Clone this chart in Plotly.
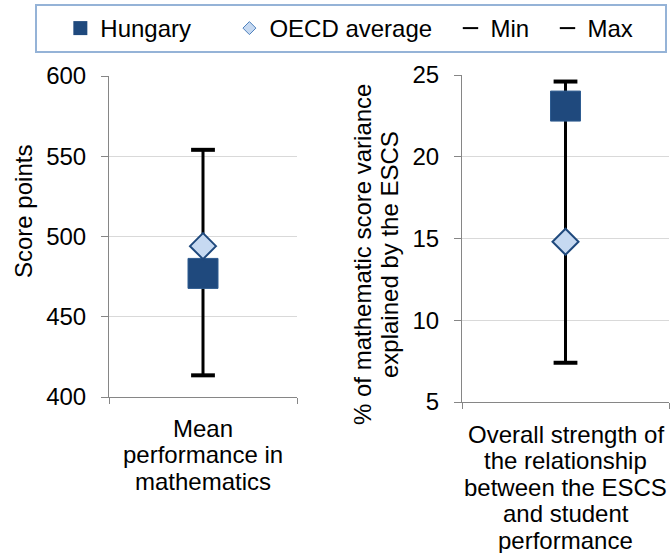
import plotly.graph_objects as go

W, H = 670, 553

# ---- data -------------------------------------------------------------
panel_labels = [
    ["Mean", "performance in", "mathematics"],
    ["Overall strength of", "the relationship", "between the ESCS",
     "and student", "performance"],
]
axis_titles = [
    ["Score points"],
    ["% of mathematic score variance", "explained by the ESCS"],
]
hungary = [477, 23.1]
oecd_average = [494, 14.8]
minimum = [413.5, 7.4]
maximum = [554, 24.6]
y_ranges = [[400, 600], [5, 25]]
y_steps = [50, 5]

# ---- styling ----------------------------------------------------------
FONT = "Liberation Sans"
TXT = "#000000"
NAVY = "#1F497D"
LIGHT = "#C6D9F1"
AXIS = "#868686"
GRID = "#D9D9D9"


def px_x(p):
    return p / W


def px_y(p):
    return 1 - p / H


# plot-area boxes in pixels: (left, right, top, bottom)
boxes = [(109, 297, 76, 397), (462, 669, 75, 402)]

fig = go.Figure()

for i in range(2):
    xa = "x" if i == 0 else "x2"
    ya = "y" if i == 0 else "y2"
    # min-max range line
    fig.add_trace(go.Scatter(
        x=[0, 0], y=[minimum[i], maximum[i]], xaxis=xa, yaxis=ya,
        mode="lines", line=dict(color="black", width=3),
        showlegend=False, hoverinfo="skip"))
    # caps at min and max
    fig.add_trace(go.Scatter(
        x=[0], y=[minimum[i]], xaxis=xa, yaxis=ya, mode="markers",
        marker=dict(symbol="line-ew", size=17,
                    line=dict(color="black", width=4)),
        name="Min", showlegend=False))
    fig.add_trace(go.Scatter(
        x=[0], y=[maximum[i]], xaxis=xa, yaxis=ya, mode="markers",
        marker=dict(symbol="line-ew", size=17,
                    line=dict(color="black", width=4)),
        name="Max", showlegend=False))
    # Hungary
    fig.add_trace(go.Scatter(
        x=[0], y=[hungary[i]], xaxis=xa, yaxis=ya, mode="markers",
        marker=dict(symbol="square", size=30, color=NAVY,
                    line=dict(color="#2E5C91", width=1)),
        name="Hungary", showlegend=False))
    # OECD average
    fig.add_trace(go.Scatter(
        x=[0], y=[oecd_average[i]], xaxis=xa, yaxis=ya, mode="markers",
        marker=dict(symbol="diamond", size=20, color=LIGHT,
                    line=dict(color=NAVY, width=2)),
        name="OECD average", showlegend=False))

# legend entries
pad = "&nbsp;"
legend_items = [
    ("Hungary" + pad * 5, dict(symbol="square", size=14, color=NAVY,
                               line=dict(width=0))),
    ("OECD average" + pad * 2, dict(symbol="diamond", size=10, color=LIGHT,
                                    line=dict(color="#4F81BD", width=1))),
    ("Min" + pad * 2, dict(symbol="line-ew", size=11,
                           line=dict(color="black", width=2))),
    ("Max" + pad * 4, dict(symbol="line-ew", size=11,
                           line=dict(color="black", width=2))),
]
for name, mk in legend_items:
    fig.add_trace(go.Scatter(x=[None], y=[None], mode="markers",
                             marker=mk, name=name, hoverinfo="skip"))

axis_font = dict(family=FONT, size=24, color=TXT)
layout = dict(
    width=W, height=H,
    margin=dict(l=0, r=0, t=0, b=0, autoexpand=False),
    paper_bgcolor="white", plot_bgcolor="white",
    font=axis_font,
    showlegend=True,
    legend=dict(
        orientation="h", xref="container", yref="container",
        x=px_x(35), y=px_y(4),
        xanchor="left", yanchor="top",
        bordercolor="#95B3D7", borderwidth=2, bgcolor="white",
        font=dict(family=FONT, size=24, color=TXT),
        itemwidth=30, tracegroupgap=0,
        title=dict(text=pad * 2, side="left",
                   font=dict(family=FONT, size=24, color=TXT)),
    ),
)

for i, (l, r, t, b) in enumerate(boxes):
    sfx = "" if i == 0 else "2"
    layout["xaxis" + sfx] = dict(
        domain=[px_x(l), px_x(r)], range=[-0.5, 0.5],
        tickvals=[-0.5, 0.5], showticklabels=False,
        ticks="outside", ticklen=6, tickcolor=AXIS, tickwidth=1,
        showline=True, linecolor=AXIS, linewidth=1,
        showgrid=False, zeroline=False, fixedrange=True,
        anchor="y" + sfx, automargin=False,
    )
    layout["yaxis" + sfx] = dict(
        domain=[px_y(b), px_y(t)], range=y_ranges[i], dtick=y_steps[i],
        tick0=y_ranges[i][0],
        ticks="outside", ticklen=7, tickcolor=AXIS, tickwidth=1,
        showline=True, linecolor=AXIS, linewidth=1,
        showgrid=True, gridcolor=GRID, gridwidth=1,
        zeroline=False, tickfont=axis_font, ticklabelstandoff=10,
        anchor="x" + sfx, automargin=False,
    )

fig.update_layout(**layout)

# category labels under each panel, one annotation per line
label_tops = [426, 432]
LINE_STEP = 26.5
for i, lines in enumerate(panel_labels):
    l, r, t, b = boxes[i]
    cx = (l + r) / 2
    for k, line in enumerate(lines):
        fig.add_annotation(
            x=px_x(cx), y=px_y(label_tops[i] + k * LINE_STEP + 2),
            xref="paper", yref="paper", text=line, showarrow=False,
            xanchor="center", yanchor="middle",
            font=dict(family=FONT, size=24, color=TXT))

# rotated y-axis titles
title_pos = [(23, 212), (362, 255)]
for i, lines in enumerate(axis_titles):
    x0, yc = title_pos[i]
    for k, line in enumerate(lines):
        fig.add_annotation(
            x=px_x(x0 + k * 27), y=px_y(yc),
            xref="paper", yref="paper", text=line, showarrow=False,
            textangle=-90, xanchor="center", yanchor="middle",
            font=dict(family=FONT, size=24, color=TXT))

fig.write_html("out.html")
